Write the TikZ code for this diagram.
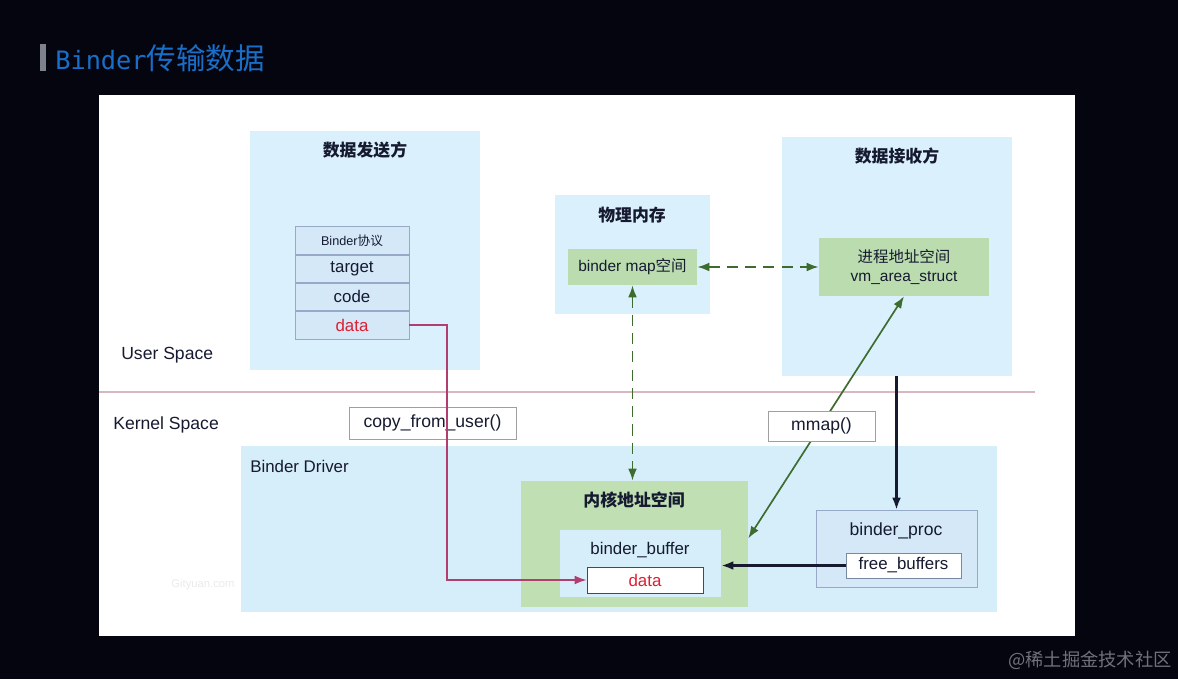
\documentclass[tikz,border=0pt]{standalone}
\usepackage{fontspec}
\setmainfont{Liberation Sans}
\newfontfamily\cjk{Noto Sans CJK SC}
\newfontfamily\titlemono{DejaVu Sans Mono}
\usepackage{tikz}
\usetikzlibrary{arrows.meta, positioning, fit}
\definecolor{bgdark}{RGB}{5, 5, 16}
\definecolor{bargrey}{RGB}{125, 130, 140}
\definecolor{titleblue}{RGB}{24, 110, 200}
\definecolor{panelblue}{RGB}{218, 240, 252}
\definecolor{driverblue}{RGB}{214, 238, 250}
\definecolor{cellblue}{RGB}{212, 232, 248}
\definecolor{cellline}{RGB}{150, 170, 200}
\definecolor{mapgreen}{RGB}{186, 220, 174}
\definecolor{kernelgreen}{RGB}{192, 224, 180}
\definecolor{inktext}{RGB}{22, 26, 48}
\definecolor{datared}{RGB}{222, 30, 50}
\definecolor{linkpink}{RGB}{178, 62, 112}
\definecolor{splitpink}{RGB}{216, 184, 192}
\definecolor{mmapgreen}{RGB}{62, 108, 46}
\definecolor{marktext}{RGB}{112, 112, 122}

\begin{document}
\begin{tikzpicture}[x=0.025cm, y=-0.025cm,
    panel/.style={rectangle, fill=panelblue, inner sep=0pt},
    greenbox/.style={rectangle, fill=mapgreen, inner sep=0pt, align=center,
                     text=inktext, font=\fontsize{11}{14}\selectfont},
    cell/.style={rectangle, draw=cellline, fill=cellblue, inner sep=0pt,
                 minimum width=2.85cm, minimum height=0.69cm, text=inktext,
                 font=\fontsize{12}{14}\selectfont},
    callbox/.style={rectangle, draw=gray!75, fill=white, inner sep=0pt,
                    text=inktext, font=\fontsize{12.5}{14}\selectfont},
    boxtitle/.style={inner sep=0pt, text=inktext, font=\cjk\bfseries\fontsize{12}{14}\selectfont},
    plain/.style={inner sep=0pt, text=inktext, font=\fontsize{12.5}{14}\selectfont},
    dasharr/.style={{Latex[length=3mm, width=2.2mm]}-{Latex[length=3mm, width=2.2mm]},
                    line width=1.3pt, mmapgreen, dash pattern=on 8pt off 5pt},
    arr/.style={-{Latex[length=3mm, width=2.2mm]}, line width=1.6pt, inktext},
]

\useasboundingbox (0,0) rectangle (1178,679);
\fill[bgdark] (0,0) rectangle (1178,679);

% heading
\fill[bargrey] (40,44) rectangle (46,71);
\node[anchor=base west, inner sep=0pt, text=titleblue] (heading) at (55,69)
  {{\titlemono\fontsize{18}{20}\selectfont Binder}{\cjk\fontsize{21}{24}\selectfont 传输数据}};
\fill[white] (99,95) rectangle (1075,636);

% user space
\node[panel, fit={(250,131) (480,370)}] (sender) {};
\node[boxtitle] (sendertitle) at (365,150) {数据发送方};
\node[cell, font=\fontsize{9}{11}\selectfont] (proto) at (352,240.5) {Binder{\cjk 协议}};
\node[cell, below=0pt of proto] (target) {target};
\node[cell, below=0pt of target] (code) {code};
\node[cell, below=0pt of code, text=datared] (userdata) {data};

\node[panel, fit={(555,195) (710,314)}] (phys) {};
\node[boxtitle] (physititle) at (632,215) {物理内存};
\node[greenbox, minimum width=3.225cm, minimum height=0.9cm] (bmap) at (632.5,267) {binder map{\cjk 空间}};

\node[panel, fit={(782,137) (1012,376)}] (recv) {};
\node[boxtitle] (recvtitle) at (897,156) {数据接收方};
\node[greenbox, minimum width=4.25cm, minimum height=1.45cm] (vm) at (904,267)
  {{\cjk 进程地址空间}\\vm\_area\_struct};

\node[plain, anchor=west] (userspace) at (121,355) {User Space};
\draw[splitpink, line width=0.8pt] (99,392) -- (1035,392);
\node[plain, anchor=west] (kernelspace) at (113,425) {Kernel Space};

% kernel space
\node[panel, fill=driverblue, fit={(241,446) (997,612)}] (driver) {};
\node[plain, font=\fontsize{12}{14}\selectfont, anchor=west] (drivertitle) at (250,466) {Binder Driver};
\node[text=black!8, inner sep=0pt, font=\fontsize{8}{10}\selectfont] (mark) at (203,585) {Gityuan.com};

\node[greenbox, fill=kernelgreen, fit={(521,481) (748,607)}] (kern) {};
\node[boxtitle] (kerntitle) at (634,500) {内核地址空间};
\node[panel, fill=driverblue, fit={(560,530) (721,597)}] (buf) {};
\node[plain, font=\fontsize{12}{14}\selectfont] (buftitle) at (640,550) {binder\_buffer};
\node[callbox, draw=inktext!80, text=datared, font=\fontsize{12}{14}\selectfont,
      minimum width=2.9cm, minimum height=0.65cm] (kdata) at (645,580) {data};

\node[rectangle, draw=cellline, fill=cellblue, inner sep=0pt, fit={(816,510) (977,587)}] (proc) {};
\node[plain] (proctitle) at (896,531) {binder\_proc};
\node[callbox, draw=cellline!80!black, font=\fontsize{12}{14}\selectfont,
      minimum width=2.875cm, minimum height=0.625cm] (freebuf) at (903.5,565.5) {free\_buffers};

\node[callbox, minimum width=4.175cm, minimum height=0.8cm] (copy) at (432.5,423) {copy\_from\_user()};

% connectors
\coordinate (turn) at (447,0);
\draw[-{Latex[length=3mm, width=2.2mm]}, line width=1.2pt, linkpink]
  (userdata.east) -| (turn |- kdata.west) -- (kdata.west);
\draw[dasharr] (bmap.east) -- (vm.west);
\draw[dasharr] (bmap.south) -- (bmap.south |- kern.north);
\draw[{Latex[length=3mm, width=2.2mm]}-{Latex[length=3mm, width=2.2mm]},
      line width=1.2pt, mmapgreen] ([yshift=4pt]kern.east) -- (vm.south);
\draw[arr] (proc.north |- recv.south) -- (proc.north);
\draw[arr] (freebuf.west) -- (freebuf.west -| buf.east);

\node[callbox, minimum width=2.675cm, minimum height=0.75cm] (mmap) at (821.5,426) {mmap()};

\node[text=marktext, inner sep=0pt, font=\cjk\fontsize{13}{15}\selectfont] (site) at (1090,660) {@稀土掘金技术社区};

\end{tikzpicture}
\end{document}
